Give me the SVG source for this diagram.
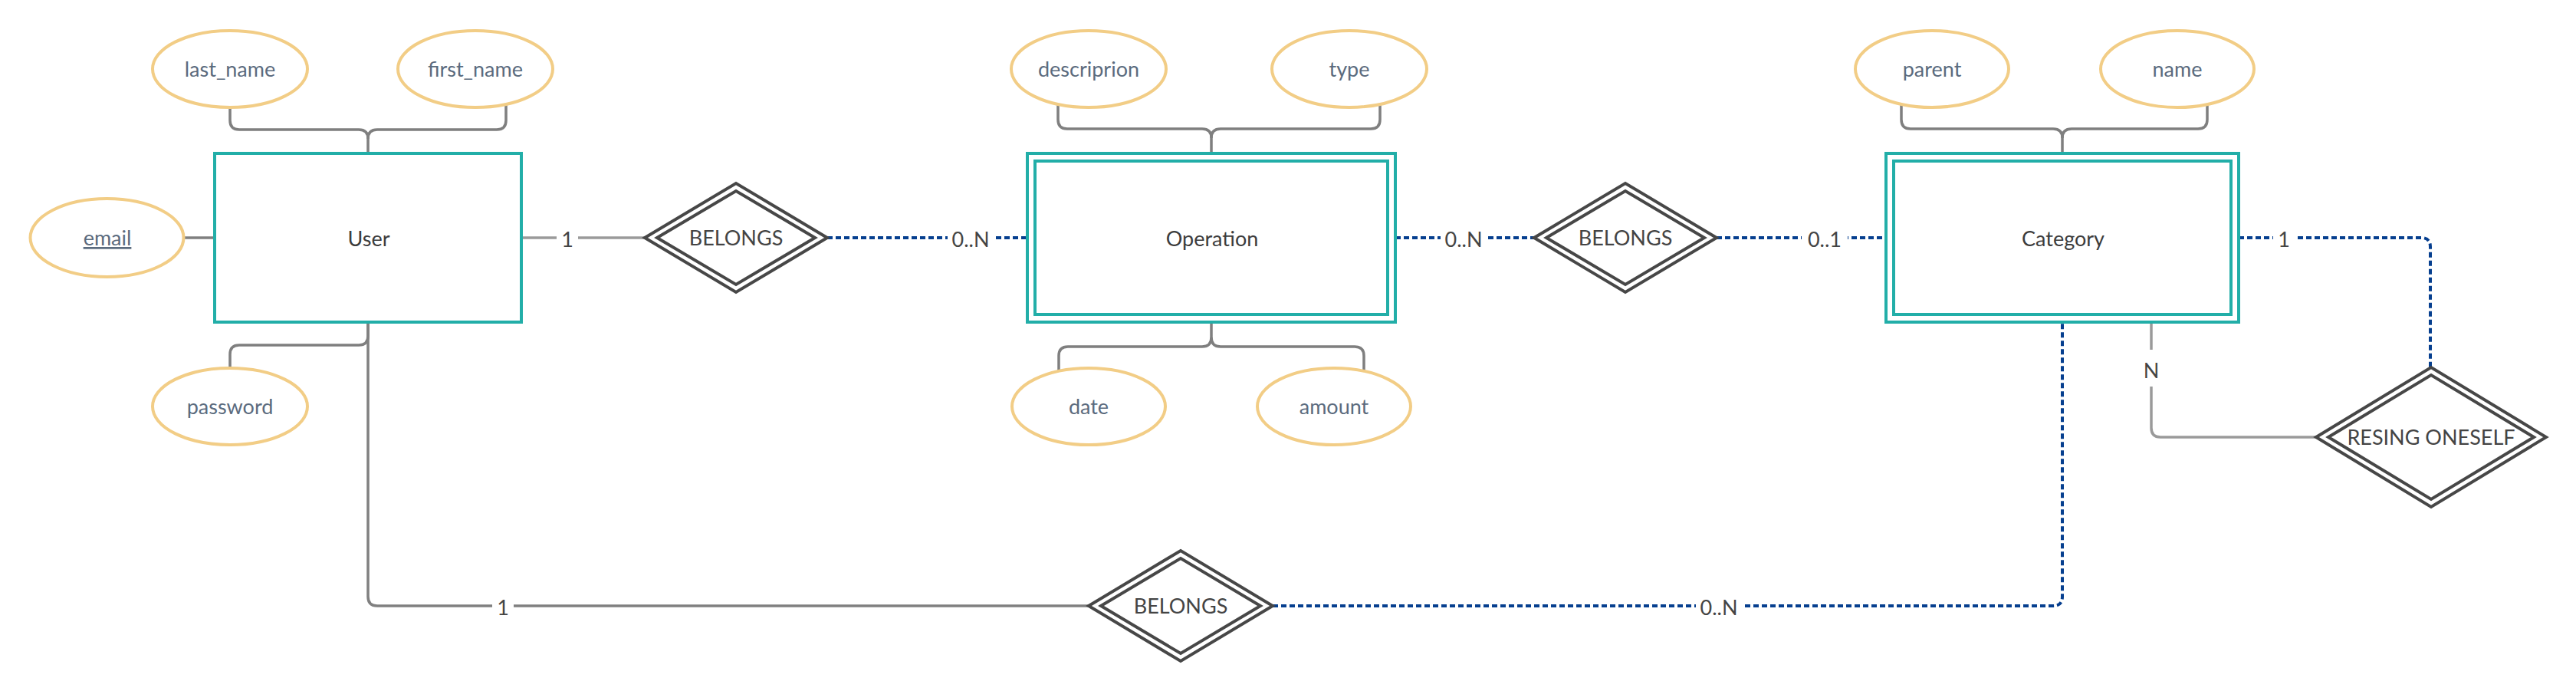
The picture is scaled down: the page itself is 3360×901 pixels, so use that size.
<svg xmlns="http://www.w3.org/2000/svg" width="3360" height="901" viewBox="0 0 3360 901">
<style>
  text { font-family: Lato, "Noto Sans", "Liberation Sans", sans-serif; font-size: 27px; text-anchor: middle; }
  .attr ellipse { fill: #ffffff; stroke: #f2cd86; stroke-width: 4; }
  .attr text { fill: #5b6b7e; }
  .ent rect { fill: #ffffff; stroke: #22aea8; stroke-width: 4; }
  .ent rect.inner { fill: none; }
  .ent text { fill: #3c3c3c; }
  .rel polygon { fill: #ffffff; stroke: #474747; stroke-width: 4; stroke-linejoin: miter; }
  .rel polygon.inner { fill: none; }
  .rel text { fill: #444444; }
  .c { fill: none; stroke-width: 3.5; stroke-linecap: butt; }
  .attrline { stroke: #7f7f7f; }
  .solid { stroke: #9a9a9a; }
  .solid2 { stroke: #808080; }
  .dot { stroke: #063f8f; stroke-dasharray: 7 4; stroke-width: 4; }
  .lbl rect { fill: #ffffff; }
  .lbl text { fill: #444444; }
</style>

<g id="connectors">
  <!-- User attribute connectors -->
  <path class="c attrline" d="M300,140 V157 Q300,169 312,169 H468 Q480,169 480,181 V199"/>
  <path class="c attrline" d="M660,136 V157 Q660,169 648,169 H492 Q480,169 480,181"/>
  <path class="c attrline" d="M239,310 H280"/>
  <path class="c attrline" d="M480,420 V438 Q480,450 468,450 H312 Q300,450 300,462 V480"/>
  <!-- Operation attribute connectors -->
  <path class="c attrline" d="M1380,136 V156 Q1380,168 1392,168 H1568 Q1580,168 1580,180 V200"/>
  <path class="c attrline" d="M1800,136 V156 Q1800,168 1788,168 H1592 Q1580,168 1580,180"/>
  <path class="c attrline" d="M1580,420 V440 Q1580,452 1568,452 H1393 Q1381,452 1381,464 V484"/>
  <path class="c attrline" d="M1580,440 Q1580,452 1592,452 H1767 Q1779,452 1779,464 V484"/>
  <!-- Category attribute connectors -->
  <path class="c attrline" d="M2480,136 V156 Q2480,168 2492,168 H2678 Q2690,168 2690,180 V200"/>
  <path class="c attrline" d="M2879,136 V156 Q2879,168 2867,168 H2702 Q2690,168 2690,180"/>

  <!-- relationships -->
  <path class="c solid" d="M680,310 H841"/>
  <path class="c dot" d="M1079,310 H1340"/>
  <path class="c dot" d="M1820,310 H2001"/>
  <path class="c dot" d="M2239,310 H2460"/>
  <path class="c dot" d="M2920,310 H3158 Q3170,310 3170,322 V479"/>
  <path class="c solid" d="M2806,420 V558 Q2806,570 2818,570 H3021"/>
  <path class="c solid2" d="M480,420 V778 Q480,790 492,790 H1420"/>
  <path class="c dot" d="M1660,790 H2678 Q2690,790 2690,778 V420"/>

  <!-- cardinality labels -->
  <g class="lbl">
    <rect x="726" y="296" width="28" height="32"/>
    <text x="740" y="322">1</text>
    <rect x="1236" y="296" width="60" height="32"/>
    <text x="1266" y="322">0..N</text>
    <rect x="1879" y="296" width="60" height="32"/>
    <text x="1909" y="322">0..N</text>
    <rect x="2350" y="296" width="60" height="32"/>
    <text x="2380" y="322">0..1</text>
    <rect x="2965" y="296" width="28" height="32"/>
    <text x="2979" y="322">1</text>
    <rect x="2792" y="456" width="28" height="48"/>
    <text x="2806" y="493">N</text>
    <rect x="642" y="776" width="28" height="32"/>
    <text x="656" y="802">1</text>
    <rect x="2212" y="776" width="60" height="32"/>
    <text x="2242" y="802">0..N</text>
  </g>
</g>

<!-- User entity and attributes -->
<g id="user" class="ent">
  <rect x="280" y="200" width="400" height="220"/>
  <text x="481" y="321">User</text>
</g>
<g id="attr-last_name" class="attr">
  <ellipse cx="300" cy="90" rx="101" ry="50"/>
  <text x="300" y="100">last_name</text>
</g>
<g id="attr-first_name" class="attr">
  <ellipse cx="620" cy="90" rx="101" ry="50"/>
  <text x="620" y="100">first_name</text>
</g>
<g id="attr-email" class="attr">
  <ellipse cx="139.5" cy="310" rx="100" ry="51"/>
  <text x="140" y="320" text-decoration="underline">email</text>
</g>
<g id="attr-password" class="attr">
  <ellipse cx="300" cy="530" rx="101" ry="50"/>
  <text x="300" y="540">password</text>
</g>

<!-- Operation entity and attributes -->
<g id="operation" class="ent">
  <rect x="1340" y="200" width="480" height="220"/>
  <rect class="inner" x="1350" y="210" width="460" height="200"/>
  <text x="1581" y="321">Operation</text>
</g>
<g id="attr-descriprion" class="attr">
  <ellipse cx="1420" cy="90" rx="101" ry="50"/>
  <text x="1420" y="100">descriprion</text>
</g>
<g id="attr-type" class="attr">
  <ellipse cx="1760" cy="90" rx="101" ry="50"/>
  <text x="1760" y="100">type</text>
</g>
<g id="attr-date" class="attr">
  <ellipse cx="1420" cy="530" rx="100" ry="50"/>
  <text x="1420" y="540">date</text>
</g>
<g id="attr-amount" class="attr">
  <ellipse cx="1740" cy="530" rx="100" ry="50"/>
  <text x="1740" y="540">amount</text>
</g>

<!-- Category entity and attributes -->
<g id="category" class="ent">
  <rect x="2460" y="200" width="460" height="220"/>
  <rect class="inner" x="2470" y="210" width="440" height="200"/>
  <text x="2691" y="321">Category</text>
</g>
<g id="attr-parent" class="attr">
  <ellipse cx="2520" cy="90" rx="100" ry="50"/>
  <text x="2520" y="100">parent</text>
</g>
<g id="attr-name" class="attr">
  <ellipse cx="2840" cy="90" rx="100" ry="50"/>
  <text x="2840" y="100">name</text>
</g>

<!-- Relationships -->
<g id="rel-belongs-user-operation" class="rel">
  <polygon points="841,310 960,239 1079,310 960,381"/>
  <polygon class="inner" points="857,310 960,249 1063,310 960,371"/>
  <text x="960" y="320">BELONGS</text>
</g>
<g id="rel-belongs-operation-category" class="rel">
  <polygon points="2001,310 2120,239 2239,310 2120,381"/>
  <polygon class="inner" points="2017,310 2120,249 2223,310 2120,371"/>
  <text x="2120" y="320">BELONGS</text>
</g>
<g id="rel-belongs-user-category" class="rel">
  <polygon points="1420,790 1540,718 1660,790 1540,862"/>
  <polygon class="inner" points="1436,790 1540,728 1644,790 1540,852"/>
  <text x="1540" y="800">BELONGS</text>
</g>
<g id="rel-resing-oneself" class="rel">
  <polygon points="3021,570 3171,479 3321,570 3171,661"/>
  <polygon class="inner" points="3037,570 3171,489 3305,570 3171,651"/>
  <text x="3171" y="580">RESING ONESELF</text>
</g>
</svg>
